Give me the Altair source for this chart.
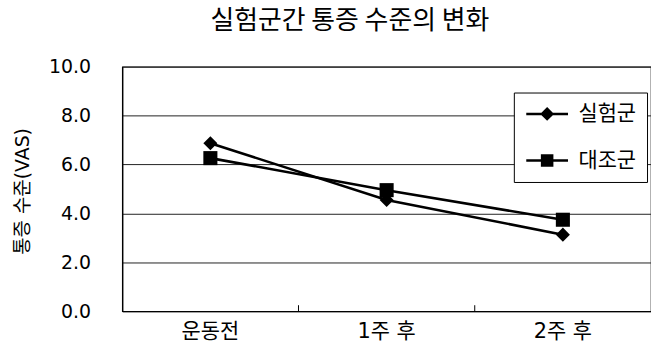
import altair as alt
import pandas as pd

# Pain level (VAS) per measurement time, two groups
times = ["운동전", "1주 후", "2주 후"]
groups = ["실험군", "대조군"]
exp_values = [6.87, 4.55, 3.13]
ctrl_values = [6.26, 4.95, 3.74]
y_ticks = [0, 2, 4, 6, 8, 10]

rows = []
for t, v in zip(times, exp_values):
    rows.append({"time": t, "group": groups[0], "vas": v})
for t, v in zip(times, ctrl_values):
    rows.append({"time": t, "group": groups[1], "vas": v})
df = pd.DataFrame(rows)

W, H = 532, 246
FONT = "DejaVu Sans, Noto Sans CJK KR"
KFONT = "Noto Sans CJK KR"

x_scale = alt.Scale(domain=times, paddingInner=0, paddingOuter=0)
x_enc = alt.X(
    "time:N",
    sort=times,
    scale=x_scale,
    axis=alt.Axis(
        title=None, ticks=False, labelAngle=0, labelFontSize=21,
        labelPadding=9, labelColor="black", domainColor="black",
        domainWidth=1.2, labelFont=FONT,
    ),
)
y_enc = alt.Y(
    "vas:Q",
    scale=alt.Scale(domain=[0, 10], nice=False),
    axis=alt.Axis(
        values=y_ticks, format=".1f", title="통증 수준(VAS)",
        ticks=False, labelFontSize=19, labelPadding=32, labelColor="black",
        labelFont=FONT, domainColor="black", domainWidth=1.2,
        gridColor="#222222", gridWidth=1,
        titleFontSize=19, titleFont=FONT, titleFontWeight="normal",
        titleColor="black", titleX=-100, titleY=H / 2 + 2, titleAngle=-90,
        titleAlign="center", titleBaseline="middle",
    ),
)

lines = alt.Chart(df).mark_line(color="black", strokeWidth=2.6).encode(
    x=x_enc, y=y_enc, detail="group:N"
)

points = alt.Chart(df).mark_point(filled=True, color="black", opacity=1, size=200).encode(
    x=x_enc,
    y=y_enc,
    shape=alt.Shape("group:N", scale=alt.Scale(domain=groups, range=["diamond", "square"]),
                    legend=None),
)

# legend-only layer: marker with a line through it
legend_paths = [
    "M-3,-0.18H3V0.18H-3Z M-1,0L0,-1L1,0L0,1Z",
    "M-3,-0.18H3V0.18H-3Z M-0.9,-0.9H0.9V0.9H-0.9Z",
]
legend_layer = alt.Chart(df).mark_point(filled=True, color="black", size=196).encode(
    x=x_enc,
    y=y_enc,
    opacity=alt.value(0),
    shape=alt.Shape(
        "group:N",
        scale=alt.Scale(domain=groups, range=legend_paths),
        legend=alt.Legend(
            title=None, orient="none", legendX=394, legendY=26,
            labelFontSize=21, labelFont=KFONT, labelColor="black",
            labelOffset=21, padding=11, symbolOffset=12, rowPadding=25,
            strokeColor="black", fillColor="white",
            symbolFillColor="black", symbolStrokeWidth=0, symbolSize=196,
        ),
    ),
)

# small inward ticks on the category boundaries
tick_df = pd.DataFrame({"time": times[1:]})
inner_ticks = alt.Chart(tick_df).mark_rule(color="black", strokeWidth=1).encode(
    x=alt.X("time:N", sort=times, bandPosition=0, scale=x_scale),
    y=alt.value(H - 6),
    y2=alt.value(H),
)

chart = (
    alt.layer(lines, points, legend_layer, inner_ticks)
    .resolve_scale(shape="independent")
    .properties(
        width=W,
        height=H,
        autosize=alt.AutoSizeParams(type="none"),
        padding={"left": 123, "top": 66, "right": 0, "bottom": 43},
        title=alt.TitleParams(
            "실험군간 통증 수준의 변화", fontSize=26, font=KFONT, fontWeight="normal",
            color="black", anchor="middle", frame="group", dx=-37, offset=24,
        ),
        background="white",
    )
    .configure_view(stroke="black", strokeWidth=1.2)
)

chart.save("out.html", embed_options={"renderer": "svg", "actions": False})
